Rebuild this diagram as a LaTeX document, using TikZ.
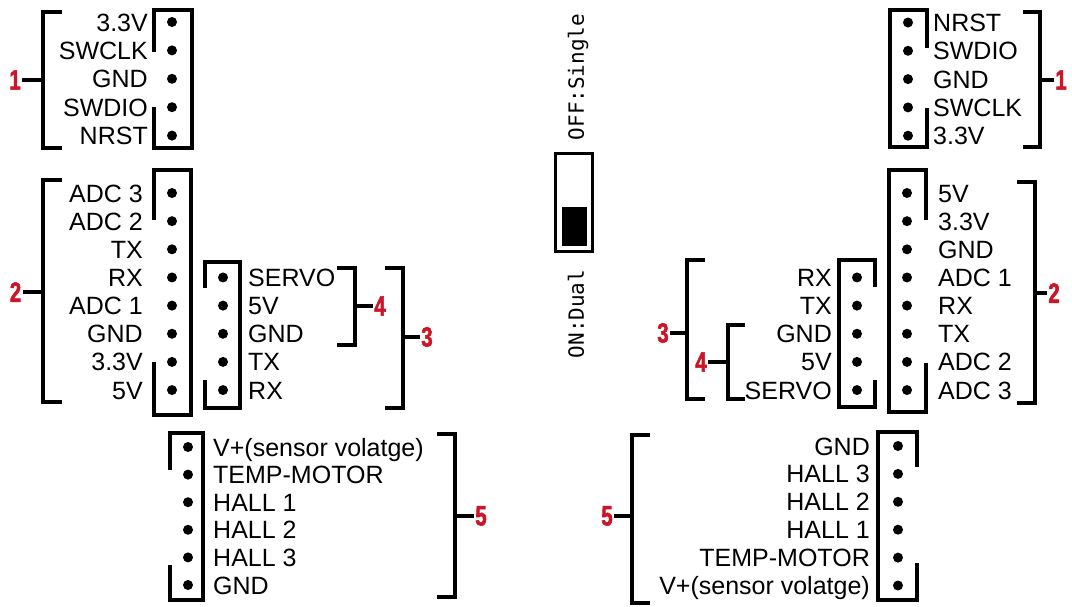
\documentclass[tikz,border=0pt]{standalone}
\usepackage{fontspec}
\setmainfont{Liberation Sans}
\newfontfamily\tagfamily[FakeStretch=0.72,FakeBold=2]{Liberation Sans Bold}
\newfontfamily\switchfamily{DejaVu Sans Mono}

\begin{document}
\begin{tikzpicture}[
  x=1pt, y=-1pt,
  housing/.style={line width=3.4pt, line join=miter},
  brace/.style={line width=3.2pt},
  pin/.style={circle, fill=black, inner sep=0pt, minimum size=10pt},
  pinlabel/.style={font=\fontsize{25}{28}\selectfont, inner sep=0pt},
  tag/.style={font=\tagfamily\fontsize{28}{28}\selectfont, text=tagred, inner sep=1.5pt},
  switchtext/.style={font=\switchfamily\fontsize{21}{21}\selectfont, rotate=90, inner sep=0pt}
]

\definecolor{tagred}{RGB}{204,22,40}

\useasboundingbox (0,0) rectangle (1072,606);

% ---------- left side ----------
% header 1
\draw[housing] (154,52) -- (154,10) -- (192,10) -- (192,148) -- (154,148) -- (154,107);
\foreach \name [count=\i from 0] in {3.3V,SWCLK,GND,SWDIO,NRST} {
  \node[pin] (la\i) at (172,22+28.4*\i) {};
  \node[pinlabel, anchor=base east] (lla\i) at (148,31+28.4*\i) {\name};
}
\draw[brace] (62,12) -- (43,12) -- (43,148) -- (62,148);
\coordinate (lbr1) at (43,80);
\node[tag] (ltag1) at (15,80) {1};
\draw[brace] (lbr1) -- (ltag1);

% header 2
\draw[housing] (154,220) -- (154,170) -- (191,170) -- (191,415) -- (154,415) -- (154,362);
\foreach \name [count=\i from 0] in {ADC 3,ADC 2,TX,RX,ADC 1,GND,3.3V,5V} {
  \node[pin] (lb\i) at (172,193+28.15*\i) {};
  \node[pinlabel, anchor=base east] (llb\i) at (143,202+28.15*\i) {\name};
}
\draw[brace] (62,180) -- (43,180) -- (43,402) -- (62,402);
\coordinate (lbr2) at (43,292);
\node[tag] (ltag2) at (15.5,292) {2};
\draw[brace] (lbr2) -- (ltag2);

% header 3 / 4
\draw[housing] (205,288) -- (205,262) -- (240,262) -- (240,408) -- (205,408) -- (205,380);
\foreach \name [count=\i from 3] in {SERVO,5V,GND,TX,RX} {
  \node[pin] (lc\i) at (223,193+28.15*\i) {};
  \node[pinlabel, anchor=base west] (llc\i) at (248,202+28.15*\i) {\name};
}
\draw[brace] (337,268) -- (355,268) -- (355,345) -- (337,345);
\coordinate (lbr4) at (355,306);
\node[tag] (ltag4) at (380,306) {4};
\draw[brace] (lbr4) -- (ltag4);
\draw[brace] (385,268) -- (403,268) -- (403,408) -- (385,408);
\coordinate (lbr3) at (403,337);
\node[tag] (ltag3) at (427,337) {3};
\draw[brace] (lbr3) -- (ltag3);

% header 5
\draw[housing] (170,470) -- (170,433) -- (203,433) -- (203,600) -- (170,600) -- (170,565);
\foreach \name [count=\i from 0] in {{V+(sensor volatge)},TEMP-MOTOR,HALL 1,HALL 2,HALL 3,GND} {
  \node[pin] (ld\i) at (188,447+27.6*\i) {};
  \node[pinlabel, anchor=base west] (lld\i) at (213,456+27.6*\i) {\name};
}
\draw[brace] (437,434) -- (455,434) -- (455,597) -- (437,597);
\coordinate (lbr5) at (455,516);
\node[tag] (ltag5) at (481,516) {5};
\draw[brace] (lbr5) -- (ltag5);

% ---------- switch ----------
\node[draw, line width=3.8pt, minimum width=37pt, minimum height=98pt, inner sep=0pt]
  (switch) at (574,202.5) {};
\fill (562,207) rectangle (587,246);
\node[switchtext] (offtext) at (578,77) {OFF:Single};
\node[switchtext] (ontext) at (576,314) {ON:Dual};

% ---------- right side ----------
% header 1
\draw[housing] (927,48) -- (927,10) -- (890,10) -- (890,147) -- (927,147) -- (927,108);
\foreach \name [count=\i from 0] in {NRST,SWDIO,GND,SWCLK,3.3V} {
  \node[pin] (ra\i) at (908,22.5+28.3*\i) {};
  \node[pinlabel, anchor=base west] (rla\i) at (933,31.5+28.3*\i) {\name};
}
\draw[brace] (1023,12) -- (1040,12) -- (1040,147) -- (1023,147);
\coordinate (rbr1) at (1040,80);
\node[tag] (rtag1) at (1061,80) {1};
\draw[brace] (rbr1) -- (rtag1);

% header 2
\draw[housing] (926,220) -- (926,170) -- (889,170) -- (889,412) -- (926,412) -- (926,363);
\foreach \name [count=\i from 0] in {5V,3.3V,GND,ADC 1,RX,TX,ADC 2,ADC 3} {
  \node[pin] (rb\i) at (907,193+28.15*\i) {};
  \node[pinlabel, anchor=base west] (rlb\i) at (938,202+28.15*\i) {\name};
}
\draw[brace] (1017,182) -- (1035,182) -- (1035,403) -- (1017,403);
\coordinate (rbr2) at (1035,293);
\node[tag] (rtag2) at (1054,293) {2};
\draw[brace] (rbr2) -- (rtag2);

% header 3 / 4
\draw[housing] (875,287) -- (875,260) -- (839,260) -- (839,407) -- (875,407) -- (875,380);
\foreach \name [count=\i from 3] in {RX,TX,GND,5V,SERVO} {
  \node[pin] (rc\i) at (857,193+28.15*\i) {};
  \node[pinlabel, anchor=base east] (rlc\i) at (832,202+28.15*\i) {\name};
}
\draw[brace] (705,260) -- (687,260) -- (687,399) -- (705,399);
\coordinate (rbr3) at (687,333);
\node[tag] (rtag3) at (663,333) {3};
\draw[brace] (rbr3) -- (rtag3);
\draw[brace] (745,325) -- (728,325) -- (728,399) -- (745,399);
\coordinate (rbr4) at (728,362);
\node[tag] (rtag4) at (701,362) {4};
\draw[brace] (rbr4) -- (rtag4);

% header 5
\draw[housing] (917,467) -- (917,432) -- (878,432) -- (878,600) -- (917,600) -- (917,563);
\foreach \name [count=\i from 0] in {GND,HALL 3,HALL 2,HALL 1,TEMP-MOTOR,{V+(sensor volatge)}} {
  \node[pin] (rd\i) at (898,446+27.9*\i) {};
  \node[pinlabel, anchor=base east] (rld\i) at (870,455+27.9*\i) {\name};
}
\draw[brace] (650,435) -- (632,435) -- (632,603) -- (650,603);
\coordinate (rbr5) at (632,516);
\node[tag] (rtag5) at (607,516) {5};
\draw[brace] (rbr5) -- (rtag5);

\end{tikzpicture}
\end{document}
